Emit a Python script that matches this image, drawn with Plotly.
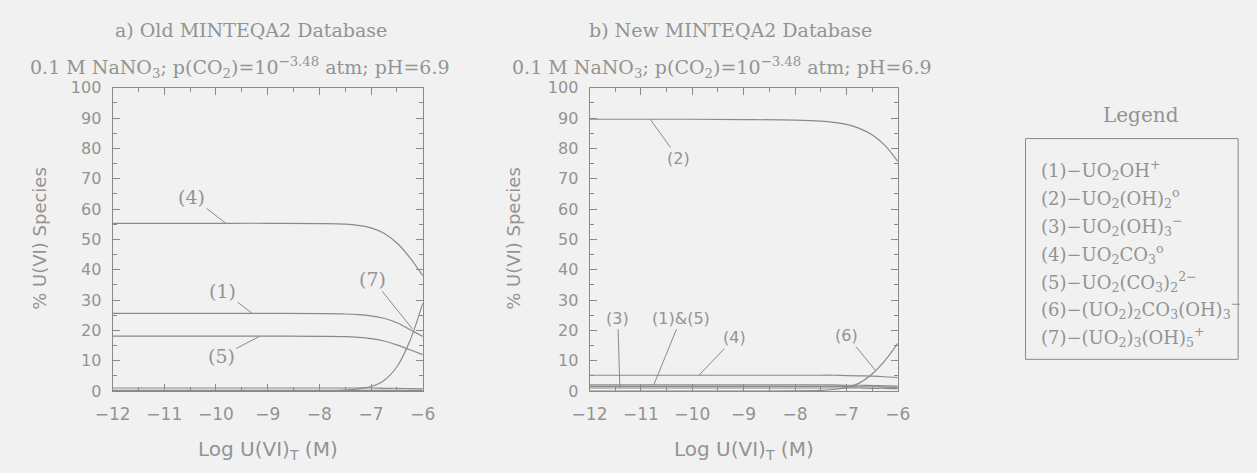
import plotly.graph_objects as go

W, H = 1257, 473

# ---------------- data ----------------
log_u = [-12, -11, -10, -9, -8, -7.5, -7.25, -7, -6.75, -6.5, -6.25, -6]

# a) Old MINTEQA2 database
old_s4 = [55.3, 55.3, 55.3, 55.3, 55.2, 55.0, 54.6, 53.8, 52.0, 48.8, 44.0, 38.0]
old_s1 = [25.6, 25.6, 25.6, 25.6, 25.5, 25.4, 25.2, 24.8, 24.0, 22.5, 20.3, 18.0]
old_s5 = [18.1, 18.1, 18.1, 18.1, 18.0, 17.9, 17.7, 17.3, 16.5, 15.2, 13.6, 12.0]
old_s7 = [0.0, 0.0, 0.0, 0.0, 0.05, 0.3, 0.7, 1.5, 3.5, 8.0, 16.5, 29.0]
old_s2 = [1.0, 1.0, 1.0, 1.0, 1.0, 1.0, 1.0, 1.0, 0.9, 0.9, 0.8, 0.7]
old_s3 = [0.2, 0.2, 0.2, 0.2, 0.2, 0.2, 0.2, 0.2, 0.2, 0.2, 0.2, 0.2]

# b) New MINTEQA2 database
new_s2 = [89.6, 89.6, 89.6, 89.5, 89.3, 89.0, 88.6, 87.9, 86.6, 84.5, 81.0, 75.7]
new_s4 = [5.2, 5.2, 5.2, 5.2, 5.2, 5.2, 5.2, 5.1, 5.0, 4.9, 4.7, 4.4]
new_s1 = [2.0, 2.0, 2.0, 2.0, 2.0, 2.0, 2.0, 1.9, 1.9, 1.8, 1.7, 1.6]
new_s5 = [1.5, 1.5, 1.5, 1.5, 1.5, 1.5, 1.5, 1.5, 1.4, 1.4, 1.3, 1.2]
new_s3 = [1.0, 1.0, 1.0, 1.0, 1.0, 1.0, 1.0, 1.0, 1.0, 0.9, 0.9, 0.8]
new_s6 = [0.0, 0.0, 0.0, 0.0, 0.05, 0.2, 0.5, 1.1, 2.6, 5.6, 10.0, 15.7]

y_ticks = [0, 10, 20, 30, 40, 50, 60, 70, 80, 90, 100]
x_ticks = [-12, -11, -10, -9, -8, -7, -6]

legend_labels = [
    "(1)−UO<sub>2</sub>OH<sup>+</sup>",
    "(2)−UO<sub>2</sub>(OH)<sub>2</sub><sup>o</sup>",
    "(3)−UO<sub>2</sub>(OH)<sub>3</sub><sup>−</sup>",
    "(4)−UO<sub>2</sub>CO<sub>3</sub><sup>o</sup>",
    "(5)−UO<sub>2</sub>(CO<sub>3</sub>)<sub>2</sub><sup>2−</sup>",
    "(6)−(UO<sub>2</sub>)<sub>2</sub>CO<sub>3</sub>(OH)<sub>3</sub><sup>−</sup>",
    "(7)−(UO<sub>2</sub>)<sub>3</sub>(OH)<sub>5</sub><sup>+</sup>",
]

# ---------------- style ----------------
BG = "#f1f1f1"
INK = "#939393"
LINE = "#8a8a8a"
SERIF = "DejaVu Serif"
SANS = "DejaVu Sans"


def fx(p):
    return p / W


def fy(p):
    return 1 - p / H


fig = go.Figure()

for ys in [old_s4, old_s1, old_s5, old_s7, old_s2, old_s3]:
    fig.add_trace(go.Scatter(x=log_u, y=ys, mode="lines", xaxis="x", yaxis="y",
                             line=dict(color=LINE, width=1.2, shape="spline"),
                             showlegend=False, hoverinfo="skip"))
for ys in [new_s2, new_s4, new_s1, new_s5, new_s3, new_s6]:
    fig.add_trace(go.Scatter(x=log_u, y=ys, mode="lines", xaxis="x2", yaxis="y2",
                             line=dict(color=LINE, width=1.2, shape="spline"),
                             showlegend=False, hoverinfo="skip"))

xcommon = dict(range=[-12, -6], tickvals=x_ticks, ticks="inside", ticklen=7,
               tickcolor=LINE, showline=True, linecolor=LINE, linewidth=1,
               mirror="allticks", showgrid=False, zeroline=False,
               tickfont=dict(family=SANS, size=17, color=INK),
               ticklabelstandoff=8,
               minor=dict(ticks="inside", dtick=0.5, tick0=-12, ticklen=4, tickcolor=LINE))
ycommon = dict(range=[0, 100], tickvals=y_ticks, ticks="inside", ticklen=7,
               tickcolor=LINE, showline=True, linecolor=LINE, linewidth=1,
               mirror="allticks", showgrid=False, zeroline=False,
               tickfont=dict(family=SANS, size=16, color=INK),
               ticklabelstandoff=7,
               minor=dict(ticks="inside", dtick=5, tick0=0, ticklen=4, tickcolor=LINE))

fig.update_layout(
    width=W, height=H, margin=dict(l=0, r=0, t=0, b=0),
    paper_bgcolor=BG, plot_bgcolor=BG,
    xaxis=dict(domain=[fx(97), fx(415)], anchor="y", **xcommon),
    yaxis=dict(domain=[fy(398), fy(82)], anchor="x", **ycommon),
    xaxis2=dict(domain=[fx(586), fx(902)], anchor="y2", **xcommon),
    yaxis2=dict(domain=[fy(398), fy(82)], anchor="x2", **ycommon),
)

ann = []


def paper_text(text, x, y, size, family=SERIF, angle=0, xanchor="center"):
    ann.append(dict(text=text, x=fx(x), y=fy(y), xref="paper", yref="paper",
                    showarrow=False, xanchor=xanchor, yanchor="middle", textangle=angle,
                    font=dict(family=family, size=size, color=INK)))


sub = "0.1 M NaNO<sub>3</sub>; p(CO<sub>2</sub>)=10<sup>−3.48</sup> atm; pH=6.9"
paper_text("a) Old MINTEQA2 Database", 239, 22, 19)
paper_text(sub, 228, 61, 19)
paper_text("b) New MINTEQA2 Database", 731, 22, 19)
paper_text(sub, 722, 61, 19)

xlab = "Log U(VI)<sub>T</sub> (M)"
paper_text(xlab, 256, 459, 20, SANS)
paper_text(xlab, 744, 459, 20, SANS)
paper_text("% U(VI) Species", 22, 239, 18, SANS, angle=-90)
paper_text("% U(VI) Species", 508, 239, 18, SANS, angle=-90)

# curve labels with leader lines (text position -> point on curve)
left_labels = [("(4)", -9.81, 55.3, -10.47, 64.0),
               ("(1)", -9.3, 25.6, -9.87, 33.0),
               ("(5)", -9.15, 18.1, -9.9, 11.4),
               ("(7)", -6.2, 20.5, -6.98, 37.0)]
right_labels = [("(2)", -10.82, 89.6, -10.27, 76.7),
                ("(3)", -11.41, 1.0, -11.45, 24.0),
                ("(1)&(5)", -10.75, 2.0, -10.22, 24.0),
                ("(4)", -9.87, 5.2, -9.17, 17.6),
                ("(6)", -6.42, 6.5, -6.99, 18.3)]
for t, x, y, tx, ty in left_labels:
    ann.append(dict(text=t, x=x, y=y, ax=tx, ay=ty, xref="x", yref="y", axref="x", ayref="y",
                    showarrow=True, arrowhead=0, arrowwidth=1, arrowcolor=LINE, standoff=0,
                    font=dict(family=SERIF, size=19, color=INK)))
for t, x, y, tx, ty in right_labels:
    ann.append(dict(text=t, x=x, y=y, ax=tx, ay=ty, xref="x2", yref="y2", axref="x2", ayref="y2",
                    showarrow=True, arrowhead=0, arrowwidth=1, arrowcolor=LINE, standoff=0,
                    font=dict(family=SANS, size=16, color=INK)))

# legend box
paper_text("Legend", 1151, 110, 20)
for i, lab in enumerate(legend_labels):
    paper_text(lab, 1047, 168 + 29 * i, 18, SERIF, xanchor="left")

fig.update_layout(annotations=ann)
fig.add_shape(type="rect", xref="paper", yref="paper",
              x0=fx(1033), x1=fx(1251), y0=fy(135), y1=fy(365),
              line=dict(color=LINE, width=1), fillcolor="rgba(0,0,0,0)")

fig.write_html("out.html")
